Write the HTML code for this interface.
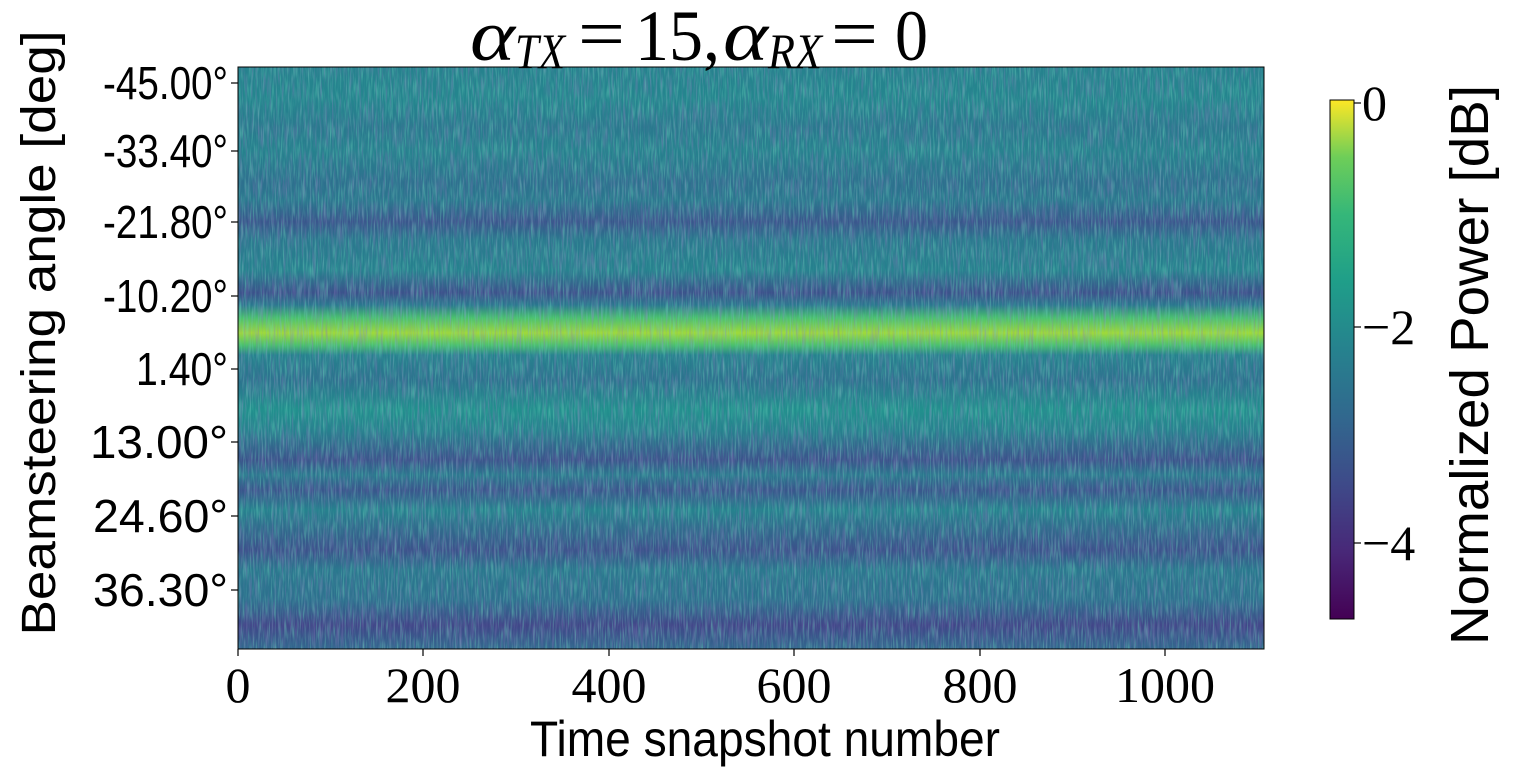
<!DOCTYPE html>
<html><head><meta charset="utf-8"><style>
html,body{margin:0;padding:0;background:#fff;}
svg{display:block}
</style></head><body>
<svg width="1536" height="767" viewBox="0 0 1536 767" xmlns="http://www.w3.org/2000/svg">
<defs>
<linearGradient id="hm" x1="0" y1="0" x2="0" y2="1">
<stop offset="0" stop-color="#26828e"/>
<stop offset="0.057" stop-color="#24868e"/>
<stop offset="0.103" stop-color="#2a788e"/>
<stop offset="0.143" stop-color="#26828e"/>
<stop offset="0.199" stop-color="#2d708e"/>
<stop offset="0.229" stop-color="#2a788e"/>
<stop offset="0.266" stop-color="#39568c"/>
<stop offset="0.297" stop-color="#2a788e"/>
<stop offset="0.349" stop-color="#26828e"/>
<stop offset="0.388" stop-color="#3b528b"/>
<stop offset="0.409" stop-color="#2a788e"/>
<stop offset="0.431" stop-color="#4ac16d"/>
<stop offset="0.457" stop-color="#a0da39"/>
<stop offset="0.478" stop-color="#4ac16d"/>
<stop offset="0.495" stop-color="#26828e"/>
<stop offset="0.538" stop-color="#2c728e"/>
<stop offset="0.589" stop-color="#21908d"/>
<stop offset="0.624" stop-color="#26828e"/>
<stop offset="0.675" stop-color="#3b528b"/>
<stop offset="0.701" stop-color="#2a788e"/>
<stop offset="0.727" stop-color="#39568c"/>
<stop offset="0.761" stop-color="#26828e"/>
<stop offset="0.830" stop-color="#3b528b"/>
<stop offset="0.864" stop-color="#2a788e"/>
<stop offset="0.916" stop-color="#2d708e"/>
<stop offset="0.959" stop-color="#404688"/>
<stop offset="1" stop-color="#31688e"/>
</linearGradient>
<linearGradient id="cb" x1="0" y1="1" x2="0" y2="0">
<stop offset="0" stop-color="#440154"/>
<stop offset="0.13" stop-color="#482878"/>
<stop offset="0.26" stop-color="#3e4a89"/>
<stop offset="0.39" stop-color="#31688e"/>
<stop offset="0.52" stop-color="#26828e"/>
<stop offset="0.65" stop-color="#1f9e89"/>
<stop offset="0.78" stop-color="#35b779"/>
<stop offset="0.89" stop-color="#6ece58"/>
<stop offset="1" stop-color="#fde725"/>
</linearGradient>
<filter id="noise" x="0" y="0" width="100%" height="100%">
<feTurbulence type="fractalNoise" baseFrequency="0.6 0.05" numOctaves="2" seed="5"/>
<feColorMatrix type="matrix" values="0 0 0 0 0.15  0 0 0 0 0.65  0 0 0 0 0.5  0 0 0 2 -0.9"/>
</filter>
<filter id="noise2" x="0" y="0" width="100%" height="100%">
<feTurbulence type="fractalNoise" baseFrequency="0.5 0.04" numOctaves="2" seed="9"/>
<feColorMatrix type="matrix" values="0 0 0 0 0.25  0 0 0 0 0.2  0 0 0 0 0.5  0 0 0 2 -0.9"/>
</filter>
</defs>
<rect x="238" y="67" width="1026" height="582" fill="url(#hm)"/>
<rect x="238" y="67" width="1026" height="582" filter="url(#noise)" opacity="0.6"/>
<rect x="238" y="67" width="1026" height="582" filter="url(#noise2)" opacity="0.5"/>
<rect x="238" y="67" width="1026" height="582" fill="none" stroke="#000" stroke-width="1"/>
<g stroke="#000" stroke-width="1.2">
<line x1="238" y1="649" x2="238" y2="656"/><line x1="423" y1="649" x2="423" y2="656"/>
<line x1="609" y1="649" x2="609" y2="656"/><line x1="794" y1="649" x2="794" y2="656"/>
<line x1="980" y1="649" x2="980" y2="656"/><line x1="1165" y1="649" x2="1165" y2="656"/>
<line x1="231" y1="83" x2="238" y2="83"/><line x1="231" y1="151" x2="238" y2="151"/>
<line x1="231" y1="222" x2="238" y2="222"/><line x1="231" y1="296" x2="238" y2="296"/>
<line x1="231" y1="369" x2="238" y2="369"/><line x1="231" y1="442" x2="238" y2="442"/>
<line x1="231" y1="516" x2="238" y2="516"/><line x1="231" y1="590" x2="238" y2="590"/>
</g>
<g font-family="Liberation Serif, serif" font-size="50" text-anchor="middle" fill="#000">
<text x="238" y="702">0</text><text x="423" y="702">200</text><text x="609" y="702">400</text>
<text x="794" y="702">600</text><text x="980" y="702">800</text><text x="1165" y="702">1000</text>
</g>
<g font-family="Liberation Sans, sans-serif" font-size="46" text-anchor="end" fill="#000">
<text x="228" y="99" textLength="125" lengthAdjust="spacingAndGlyphs">-45.00°</text>
<text x="228" y="167" textLength="125" lengthAdjust="spacingAndGlyphs">-33.40°</text>
<text x="228" y="238" textLength="125" lengthAdjust="spacingAndGlyphs">-21.80°</text>
<text x="228" y="312" textLength="125" lengthAdjust="spacingAndGlyphs">-10.20°</text>
<text x="228" y="385" textLength="92" lengthAdjust="spacingAndGlyphs">1.40°</text>
<text x="228" y="458" textLength="138" lengthAdjust="spacingAndGlyphs">13.00°</text>
<text x="228" y="532" textLength="135" lengthAdjust="spacingAndGlyphs">24.60°</text>
<text x="228" y="606" textLength="135" lengthAdjust="spacingAndGlyphs">36.30°</text>
</g>
<text x="765" y="756" font-family="Liberation Sans, sans-serif" font-size="50" text-anchor="middle" textLength="470" lengthAdjust="spacingAndGlyphs">Time snapshot number</text>
<text transform="translate(55,333) rotate(-90)" font-family="Liberation Sans, sans-serif" font-size="48" text-anchor="middle" textLength="605" lengthAdjust="spacingAndGlyphs">Beamsteering angle [deg]</text>
<g font-family="Liberation Serif, serif" fill="#000">
<text x="470" y="60" font-size="72" font-style="italic" textLength="45" lengthAdjust="spacingAndGlyphs">α</text>
<text x="515" y="68" font-size="50" font-style="italic" textLength="50" lengthAdjust="spacingAndGlyphs">TX</text>
<text x="578" y="58" font-size="72" textLength="47" lengthAdjust="spacingAndGlyphs">=</text>
<text x="635" y="60" font-size="72" textLength="85" lengthAdjust="spacingAndGlyphs">15,</text>
<text x="723" y="60" font-size="72" font-style="italic" textLength="45" lengthAdjust="spacingAndGlyphs">α</text>
<text x="768" y="68" font-size="50" font-style="italic" textLength="54" lengthAdjust="spacingAndGlyphs">RX</text>
<text x="831" y="58" font-size="72" textLength="47" lengthAdjust="spacingAndGlyphs">=</text>
<text x="895" y="60" font-size="72" textLength="33" lengthAdjust="spacingAndGlyphs">0</text>
</g>
<rect x="1330" y="100" width="24" height="519" fill="url(#cb)" stroke="#000" stroke-width="1"/>
<g stroke="#000" stroke-width="1.2">
<line x1="1354" y1="103" x2="1361" y2="103"/><line x1="1354" y1="327" x2="1361" y2="327"/><line x1="1354" y1="543" x2="1361" y2="543"/>
</g>
<g font-family="Liberation Serif, serif" font-size="50" fill="#000">
<text x="1362" y="120">0</text><text x="1362" y="344">−2</text><text x="1362" y="560">−4</text>
</g>
<text transform="translate(1488,365) rotate(-90)" font-family="Liberation Sans, sans-serif" font-size="54" text-anchor="middle" textLength="560" lengthAdjust="spacingAndGlyphs">Normalized Power [dB]</text>
</svg>
</body></html>
